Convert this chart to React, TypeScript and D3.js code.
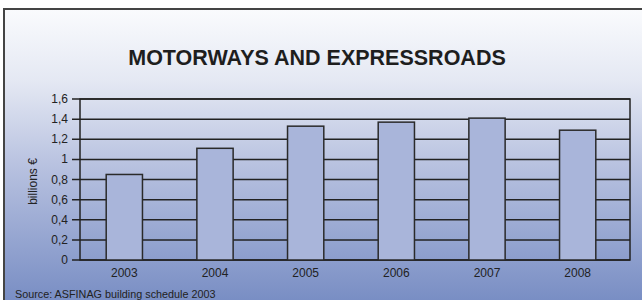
import React, { useEffect, useRef } from "react";
import * as d3 from "d3";

const years = ["2003", "2004", "2005", "2006", "2007", "2008"];
const investment = [0.85, 1.11, 1.33, 1.37, 1.41, 1.29];
const yTicks = [0, 0.2, 0.4, 0.6, 0.8, 1, 1.2, 1.4, 1.6];

const chartTitle = "MOTORWAYS AND EXPRESSROADS";
const yLabel = "billions €";
const sourceNote = "Source: ASFINAG building schedule 2003";

export default function App() {
  const ref = useRef<SVGSVGElement>(null);

  useEffect(() => {
    const W = 642,
      H = 300;
    const plot = { left: 80, right: 630, top: 99, bottom: 260 };

    const svg = d3.select(ref.current);
    svg.selectAll("*").remove();
    svg.attr("width", W).attr("height", H);

    const defs = svg.append("defs");
    const grad = defs
      .append("linearGradient")
      .attr("id", "bg")
      .attr("x1", 0)
      .attr("y1", 0)
      .attr("x2", 0)
      .attr("y2", 1);
    grad.append("stop").attr("offset", "0%").attr("stop-color", "#fafbfd");
    grad.append("stop").attr("offset", "25%").attr("stop-color", "#e4e8f3");
    grad.append("stop").attr("offset", "55%").attr("stop-color", "#b6c0df");
    grad.append("stop").attr("offset", "100%").attr("stop-color", "#798ec4");

    svg.append("rect").attr("width", W).attr("height", H).attr("fill", "#fff");
    svg
      .append("rect")
      .attr("x", 4)
      .attr("y", 9)
      .attr("width", W - 4)
      .attr("height", H - 9)
      .attr("fill", "url(#bg)");
    svg
      .append("path")
      .attr("d", `M4,${H} V9 H${W}`)
      .attr("fill", "none")
      .attr("stroke", "#444")
      .attr("stroke-width", 2);

    const font = "'Liberation Sans', Arial, Helvetica, sans-serif";

    svg
      .append("text")
      .attr("x", 317)
      .attr("y", 65)
      .attr("text-anchor", "middle")
      .style("font-family", font)
      .style("font-size", "21.5px")
      .style("font-weight", "bold")
      .style("fill", "#1e1e1e")
      .text(chartTitle);

    const x = d3
      .scaleBand()
      .domain(years)
      .range([79, 623])
      .paddingInner(0.6)
      .paddingOuter(0.3);

    const y = d3.scaleLinear().domain([0, 1.6]).range([plot.bottom, plot.top]);

    // gridlines + ticks
    svg
      .append("g")
      .selectAll("line")
      .data(yTicks)
      .join("line")
      .attr("x1", plot.left - 8)
      .attr("x2", plot.right)
      .attr("y1", (d) => y(d))
      .attr("y2", (d) => y(d))
      .attr("stroke", "#222")
      .attr("stroke-width", 1.5);

    svg
      .append("g")
      .selectAll("text")
      .data(yTicks)
      .join("text")
      .attr("x", plot.left - 12)
      .attr("y", (d) => y(d) + 4)
      .attr("text-anchor", "end")
      .style("font-family", font)
      .style("font-size", "12px")
      .style("fill", "#222")
      .text((d) => d3.format("")(d).replace(".", ","));

    // frame
    svg
      .append("rect")
      .attr("x", plot.left)
      .attr("y", plot.top)
      .attr("width", plot.right - plot.left)
      .attr("height", plot.bottom - plot.top)
      .attr("fill", "none")
      .attr("stroke", "#222")
      .attr("stroke-width", 1.5);

    // bars
    svg
      .append("g")
      .selectAll("rect")
      .data(years)
      .join("rect")
      .attr("x", (d) => x(d)!)
      .attr("y", (d, i) => y(investment[i]))
      .attr("width", x.bandwidth())
      .attr("height", (d, i) => y(0) - y(investment[i]))
      .attr("fill", "#a9b5da")
      .attr("stroke", "#2a2a2a")
      .attr("stroke-width", 1.5);

    svg
      .append("g")
      .selectAll("text")
      .data(years)
      .join("text")
      .attr("x", (d) => x(d)! + x.bandwidth() / 2)
      .attr("y", 277)
      .attr("text-anchor", "middle")
      .style("font-family", font)
      .style("font-size", "12px")
      .style("fill", "#222")
      .text((d) => d);

    svg
      .append("text")
      .attr("transform", `translate(37, ${(plot.top + plot.bottom) / 2 + 2}) rotate(-90)`)
      .attr("text-anchor", "middle")
      .style("font-family", font)
      .style("font-size", "12px")
      .style("fill", "#222")
      .text(yLabel);

    svg
      .append("text")
      .attr("x", 15)
      .attr("y", 298)
      .style("font-family", font)
      .style("font-size", "10.8px")
      .style("fill", "#222")
      .text(sourceNote);
  }, []);

  return (
    <svg
      ref={ref}
      style={{ position: "absolute", left: 0, top: 0, display: "block" }}
    ></svg>
  );
}
